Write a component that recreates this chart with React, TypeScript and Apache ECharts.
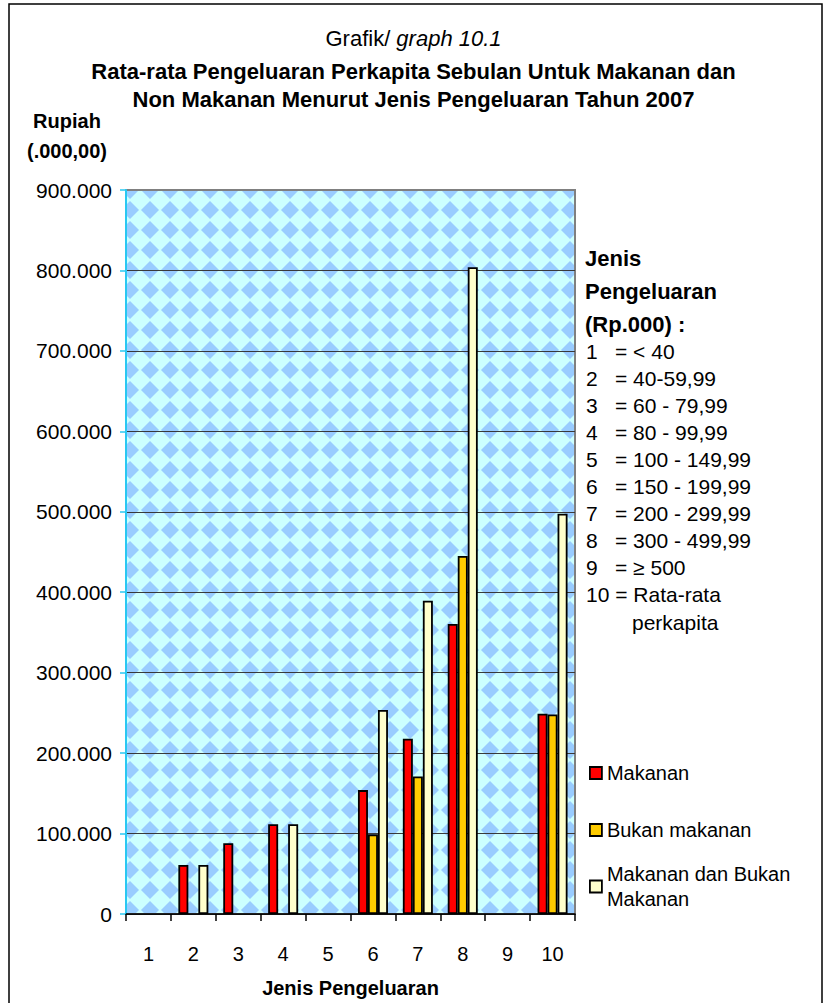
import React, { useEffect, useRef } from "react";
import * as echarts from "echarts";

const FONT = "'Liberation Sans', Arial, sans-serif";

const categories = ["1", "2", "3", "4", "5", "6", "7", "8", "9", "10"];
// Rupiah per capita per month (null = no bar drawn)
const makanan = [null, 61000, 88000, 111500, null, 154000, 218000, 360500, null, 249000];
const bukanMakanan = [null, null, null, null, null, 99000, 171000, 445000, null, 248000];
const makananDanBukan = [null, 61000, null, 111500, null, 253500, 389500, 804000, null, 497500];

const seriesNames = ["Makanan", "Bukan makanan", "Makanan dan Bukan Makanan"];
const seriesColors = ["#FF0000", "#FFCC00", "#FFFFCC"];

const titleLine1 = ["Grafik/ ", "graph 10.1"];
const titleLines = [
  "Rata-rata Pengeluaran Perkapita Sebulan Untuk Makanan dan",
  "Non Makanan Menurut Jenis Pengeluaran Tahun 2007",
];
const yAxisNameLines = ["Rupiah", "(.000,00)"];
const xAxisName = "Jenis Pengeluaran";
const keyHeader = ["Jenis", "Pengeluaran", "(Rp.000) :"];
const keyNumbers = ["1", "2", "3", "4", "5", "6", "7", "8", "9"];
const keyRanges = [
  "= < 40",
  "= 40-59,99",
  "= 60 - 79,99",
  "= 80 - 99,99",
  "= 100 - 149,99",
  "= 150 - 199,99",
  "= 200 - 299,99",
  "= 300 - 499,99",
  "= \u2265 500",
];
const keyLast = ["10 = Rata-rata", "perkapita"];

function fmt(v: number) {
  if (v === 0) return "0";
  return String(v).replace(/\B(?=(\d{3})+(?!\d))/g, ".");
}

const patternSvg =
  "<svg xmlns='http://www.w3.org/2000/svg' width='20' height='20'>" +
  "<rect width='20' height='20' fill='#CCFFFF'/>" +
  "<polygon points='10,1 19,10 10,19 1,10' fill='#99CCFF'/></svg>";
const patternUrl = "data:image/svg+xml;charset=utf-8," + encodeURIComponent(patternSvg);

export default function App() {
  const ref = useRef<HTMLDivElement>(null);

  useEffect(() => {
    if (!ref.current) return;
    const chart = echarts.init(ref.current, null, { renderer: "svg" });

    const graphics: any[] = [
      {
        type: "rect",
        shape: { x: 9, y: 4, width: 813, height: 1010 },
        style: { fill: "none", stroke: "#000", lineWidth: 1.5 },
        z: 0,
      },
    ];
    yAxisNameLines.forEach((t, i) => {
      graphics.push({
        type: "text",
        x: 67,
        y: 121 + i * 30,
        style: {
          text: t,
          font: `bold 20px ${FONT}`,
          fill: "#000",
          align: "center",
          verticalAlign: "middle",
        },
      });
    });
    keyHeader.forEach((t, i) => {
      graphics.push({
        type: "text",
        x: 585,
        y: 258 + i * 33,
        style: { text: t, font: `bold 22px ${FONT}`, fill: "#000", verticalAlign: "middle" },
      });
    });
    keyNumbers.forEach((t, i) => {
      graphics.push({
        type: "text",
        x: 586,
        y: 351 + i * 27,
        style: { text: t, font: `21px ${FONT}`, fill: "#000", verticalAlign: "middle" },
      });
      graphics.push({
        type: "text",
        x: 615,
        y: 351 + i * 27,
        style: { text: keyRanges[i], font: `21px ${FONT}`, fill: "#000", verticalAlign: "middle" },
      });
    });
    graphics.push({
      type: "text",
      x: 586,
      y: 351 + 9 * 27,
      style: { text: keyLast[0], font: `21px ${FONT}`, fill: "#000", verticalAlign: "middle" },
    });
    graphics.push({
      type: "text",
      x: 632,
      y: 351 + 10 * 27 + 1,
      style: { text: keyLast[1], font: `21px ${FONT}`, fill: "#000", verticalAlign: "middle" },
    });

    const legendBase = {
      orient: "vertical",
      left: 589,
      padding: 0,
      itemWidth: 12,
      itemHeight: 12,
      itemGap: 6,
      icon: "rect",
      selectedMode: false,
      itemStyle: { borderColor: "#000", borderWidth: 1.8 },
      textStyle: { fontSize: 20, fontFamily: FONT, color: "#000" },
    };

    const option: any = {
      animation: false,
      backgroundColor: "#fff",
      title: [
        {
          text: `{a|${titleLine1[0]}}{b|${titleLine1[1]}}`,
          left: "center",
          top: 27,
          padding: 0,
          textStyle: {
            rich: {
              a: { fontSize: 22, fontWeight: "normal", fontFamily: FONT, color: "#000" },
              b: {
                fontSize: 22,
                fontWeight: "normal",
                fontFamily: FONT,
                color: "#000",
                fontStyle: "italic",
              },
            },
          },
        },
        {
          text: titleLines.join("\n"),
          left: "center",
          top: 57,
          padding: 0,
          textStyle: {
            fontSize: 22,
            fontWeight: "bold",
            fontFamily: FONT,
            color: "#000",
            lineHeight: 28,
            align: "center",
          },
        },
      ],
      legend: [
        { ...legendBase, top: 763, data: [seriesNames[0]] },
        { ...legendBase, top: 820, data: [seriesNames[1]] },
        {
          ...legendBase,
          top: 849,
          data: [seriesNames[2]],
          formatter: () => "Makanan dan Bukan\nMakanan",
          textStyle: {
            fontSize: 20,
            fontFamily: FONT,
            color: "#000",
            lineHeight: 25,
            padding: [25, 0, 0, 0],
          },
        },
      ],
      grid: {
        left: 126,
        top: 190,
        width: 449,
        height: 728,
        show: true,
        backgroundColor: {
          image: patternUrl,
          repeat: "repeat",
          imageWidth: 20,
          imageHeight: 20,
          x: 6,
          y: 5,
        },
        borderColor: "#808080",
        borderWidth: 2,
      },
      xAxis: {
        type: "category",
        data: categories,
        name: xAxisName,
        nameLocation: "middle",
        nameGap: 64,
        nameTextStyle: { fontSize: 20, fontWeight: "bold", fontFamily: FONT, color: "#000" },
        axisLine: { show: true, lineStyle: { color: "#000", width: 1.5 } },
        axisTick: { show: true, length: 7, lineStyle: { color: "#000", width: 1.5 } },
        axisLabel: { fontSize: 20, fontFamily: FONT, color: "#000", margin: 30 },
        splitLine: { show: false },
      },
      yAxis: {
        type: "value",
        min: 0,
        max: 900000,
        interval: 100000,
        axisLine: { show: true, lineStyle: { color: "#29C8F2", width: 2 } },
        axisTick: { show: true, length: 6, lineStyle: { color: "#29C8F2", width: 1.5 } },
        axisLabel: {
          fontSize: 21,
          fontFamily: FONT,
          color: "#000",
          margin: 14,
          formatter: (v: number) => fmt(v),
        },
        splitLine: { show: true, showMaxLine: false, lineStyle: { color: "#3A3A3A", width: 1 } },
      },
      series: [makanan, bukanMakanan, makananDanBukan].map((d, i) => ({
        name: seriesNames[i],
        type: "bar",
        data: d,
        barWidth: 10,
        barGap: "0%",
        itemStyle: { color: seriesColors[i], borderColor: "#000", borderWidth: 1.8 },
      })),
      graphic: graphics,
    };

    chart.setOption(option);
    return () => chart.dispose();
  }, []);

  return (
    <div
      ref={ref}
      style={{ position: "absolute", left: 0, top: 0, width: 827, height: 1003 }}
    />
  );
}
